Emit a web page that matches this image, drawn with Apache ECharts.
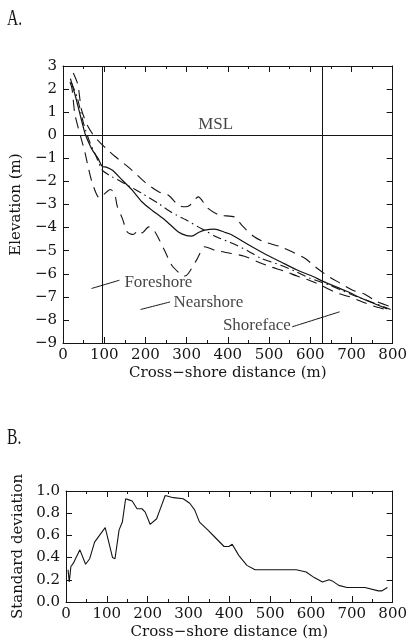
<!DOCTYPE html>
<html><head><meta charset="utf-8">
<script src="https://cdn.jsdelivr.net/npm/echarts@6/dist/echarts.min.js"></script>
<style>html,body{margin:0;padding:0;background:#fff}#c{width:410px;height:641px}</style>
</head><body><div id="c"></div><script>
// ---------- Panel A data (cross-shore distance m, elevation m) ----------
const meanX = [18,30,40,50,55,70,85,95,105,120,144,168,192,216,248,280,300,312,330,344,368,392,408,448,488,528,568,608,631,687,727,787];
const meanY = [2.45,1.7,1.0,0.3,0.0,-0.6,-1.0,-1.35,-1.38,-1.52,-1.95,-2.38,-2.89,-3.25,-3.68,-4.19,-4.35,-4.37,-4.2,-4.11,-4.07,-4.2,-4.3,-4.72,-5.12,-5.48,-5.84,-6.13,-6.33,-6.75,-7.08,-7.52];

const upperX = [25,36,45,60,77,105,125,160,200,232,256,280,296,308,328,352,380,416,436,464,488,528,556,588,612,643,672,703,731,763,791];
const upperY = [2.7,2.2,1.1,0.4,-0.07,-0.58,-0.9,-1.4,-2.05,-2.45,-2.6,-3.03,-3.1,-3.03,-2.67,-3.17,-3.46,-3.54,-3.94,-4.4,-4.62,-4.83,-5.05,-5.34,-5.7,-6.1,-6.4,-6.71,-6.88,-7.22,-7.4];

const lowerX = [17,22,29,45,53,61,69,80,88,100,115,125,132,144,156,170,184,192,208,220,232,248,264,288,296,304,324,344,368,408,440,472,504,536,568,600,632,664,696,727,759,791];
const lowerY = [2.3,2.0,0.9,-0.2,-0.72,-1.37,-1.95,-2.5,-2.72,-2.55,-2.35,-2.52,-3.1,-3.6,-4.19,-4.3,-4.11,-4.23,-3.97,-4.1,-4.47,-5.05,-5.63,-6.06,-6.1,-5.99,-5.41,-4.83,-4.98,-5.12,-5.24,-5.48,-5.7,-5.88,-6.1,-6.3,-6.55,-6.83,-7.0,-7.22,-7.43,-7.58];

const dotX = [20,35,50,65,80,95,112,140,170,192,232,264,304,328,344,372,412,448,480,528,564,600,640,700,760,795];
const dotY = [2.3,1.6,0.5,-0.3,-0.9,-1.5,-1.73,-2.0,-2.3,-2.52,-2.96,-3.35,-3.72,-3.97,-4.12,-4.4,-4.69,-5.0,-5.33,-5.63,-5.9,-6.2,-6.45,-6.9,-7.3,-7.55];

// zone boundaries and mean sea level
const zoneBounds = [95, 630];
const mslLevel = 0;

// annotation texts (data coords) and leader lines
const annoText = ['MSL','Foreshore','Nearshore','Shoreface'];
const annoX = [328, 149, 268, 388];
const annoY = [0.45, -6.36, -7.23, -8.23];
const foreLeadX = [69,137], foreLeadY = [-6.64,-6.28];
const nearLeadX = [188,260], nearLeadY = [-7.55,-7.22];
const shoreLeadX = [556,671], shoreLeadY = [-8.3,-7.65];

// ---------- Panel B data (standard deviation) ----------
const sdX = [5,8,12,18,34,48,58,70,82,96,99,114,120,130,138,146,154,162,174,186,194,206,222,232,243,246,263,287,303,315,327,347,363,387,399,407,423,443,463,476,524,564,588,608,628,644,652,668,688,708,732,765,773,787];
const sdV = [0.29,0.18,0.32,0.35,0.47,0.34,0.39,0.54,0.6,0.67,0.66,0.40,0.39,0.65,0.72,0.93,0.92,0.91,0.84,0.84,0.81,0.70,0.75,0.85,0.96,0.97,0.94,0.93,0.89,0.83,0.72,0.65,0.59,0.5,0.5,0.52,0.42,0.33,0.29,0.29,0.29,0.29,0.27,0.22,0.18,0.2,0.19,0.15,0.13,0.13,0.13,0.10,0.10,0.13];

const ink = '#141414';
const zip = (a,b) => a.map((v,i)=>[v,b[i]]);
const tickFont = {fontFamily:'DejaVu Serif', fontSize:15, color:ink};
const nameFont = {fontFamily:'DejaVu Serif', fontSize:15, color:ink};
const annoFont = {fontFamily:'Liberation Serif', fontSize:17, color:ink};

function xAx(grid, pos, withLabel, name, min, max){
  return {
    type:'value', gridIndex:grid, position:pos, min:min, max:max, interval:100,
    axisLine:{show:true, onZero:false, lineStyle:{color:ink, width:1}},
    axisTick:{show:true, inside:true, length:6, lineStyle:{color:ink}},
    minorTick:{show:true, splitNumber:2, length:3, lineStyle:{color:ink}},
    axisLabel:{show:withLabel, margin:5, ...tickFont},
    splitLine:{show:false},
    name: withLabel ? name : '', nameLocation:'middle', nameGap:23, nameTextStyle:nameFont
  };
}
function yAx(grid, pos, withLabel, name, min, max, interval, gap, fmt){
  return {
    type:'value', gridIndex:grid, position:pos, min:min, max:max, interval:interval,
    axisLine:{show:true, onZero:false, lineStyle:{color:ink, width:1}},
    axisTick:{show:true, inside:true, length:6, lineStyle:{color:ink}},
    axisLabel:{show:withLabel, margin:6, ...tickFont, formatter:fmt},
    splitLine:{show:false},
    name: withLabel ? name : '', nameLocation:'middle', nameGap:gap, nameTextStyle:nameFont
  };
}

const lineS = (x,y,type,w) => ({
  type:'line', xAxisIndex:0, yAxisIndex:0, data:zip(x,y), showSymbol:false, smooth:0.25,
  lineStyle:{color:ink, width:w||1, type:type}, silent:true, animation:false
});

const chart = echarts.init(document.getElementById('c'), null, {renderer:'canvas'});
chart.setOption({
  backgroundColor:'#fff',
  animation:false,
  graphic:[
    {type:'text', x:7, y:7, scaleX:0.68, style:{text:'A.', font:'23px "Liberation Serif"', fill:ink}},
    {type:'text', x:7, y:426, scaleX:0.68, style:{text:'B.', font:'23px "Liberation Serif"', fill:ink}}
  ],
  grid:[
    {left:63, top:66, width:334, height:277},
    {left:66, top:491, width:332, height:111}
  ],
  xAxis:[
    xAx(0,'bottom',true,'Cross\u2212shore distance (m)',0,800),
    xAx(0,'top',false,'',0,800),
    xAx(1,'bottom',true,'Cross\u2212shore distance (m)',0,800),
    xAx(1,'top',false,'',0,800)
  ],
  yAxis:[
    yAx(0,'left',true,'Elevation (m)',-9,3,1,21, v=>String(v).replace('-','\u2212')),
    yAx(0,'right',false,'',-9,3,1,30),
    yAx(1,'left',true,'Standard deviation',0,1,0.2,30, v=>v.toFixed(1)),
    yAx(1,'right',false,'',0,1,0.2,36)
  ],
  series:[
    Object.assign(lineS(meanX,meanY,'solid',1.2), {
      markLine:{silent:true, symbol:'none', animation:false, label:{show:false},
        lineStyle:{color:ink, width:1, type:'solid'},
        data:[{xAxis:zoneBounds[0]},{xAxis:zoneBounds[1]},{yAxis:mslLevel}]}
    }),
    lineS(upperX,upperY,[11,7],1.1),
    lineS(lowerX,lowerY,[11,7],1.1),
    lineS(dotX,dotY,[9,4,1.5,4],1.1),
    lineS(foreLeadX,foreLeadY,'solid',1),
    lineS(nearLeadX,nearLeadY,'solid',1),
    lineS(shoreLeadX,shoreLeadY,'solid',1),
    {type:'scatter', xAxisIndex:0, yAxisIndex:0, symbolSize:0, silent:true,
     data: annoX.map((x,i)=>({value:[x,annoY[i]], name:annoText[i]})),
     label:{show:true, position:'right', distance:0, formatter:p=>p.name, ...annoFont}},
    {type:'line', xAxisIndex:2, yAxisIndex:2, data:zip(sdX,sdV), showSymbol:false,
     lineStyle:{color:ink, width:1.1}, silent:true}
  ]
});
</script></body></html>
